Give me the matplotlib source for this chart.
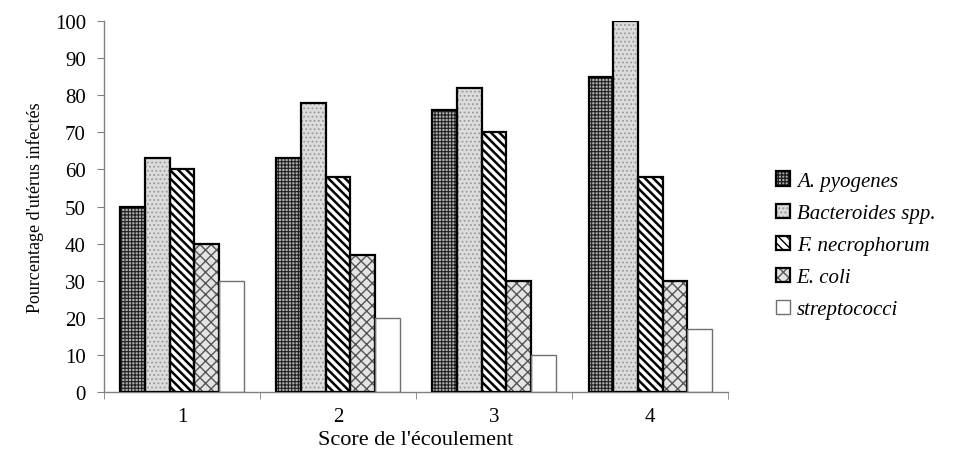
import numpy as np
import matplotlib
matplotlib.use("Agg")
import matplotlib.pyplot as plt
from matplotlib.legend_handler import HandlerTuple

plt.rcParams['font.family'] = ['Liberation Serif', 'DejaVu Serif']

# discharge score categories
scores = ['1', '2', '3', '4']

# % of infected uteri per bacterium
a_pyogenes = [50, 63, 76, 85]
bacteroides = [63, 78, 82, 100]
f_necrophorum = [60, 58, 70, 58]
e_coli = [40, 37, 30, 30]
streptococci = [30, 20, 10, 17]

series = [a_pyogenes, bacteroides, f_necrophorum, e_coli, streptococci]
labels = ['A. pyogenes', 'Bacteroides spp.', 'F. necrophorum', 'E. coli', 'streptococci']

# face, hatch, hatch colour, hatch width, edge colour, edge width
styles = [
    ('#b0b0b0', '+++++', '#202020', 0.8, 'black', 1.6),
    ('#dcdcdc', '....', '#9a9a9a', 0.8, 'black', 1.6),
    ('white', '\\\\\\\\', 'black', 1.8, 'black', 1.6),
    ('#e4e4e4', 'xxx', '#555555', 1.0, 'black', 1.6),
    ('white', '', 'white', 0.5, '#707070', 1.0),
]

fig = plt.figure(figsize=(9.62, 4.52), dpi=100)
ax = fig.add_axes([0.108, 0.1305, 0.649, 0.8205])

x = np.arange(1, len(scores) + 1)
w = 0.158
handles = []
for i, (vals, lab, st) in enumerate(zip(series, labels, styles)):
    face, hatch, hcol, hlw, ecol, elw = st
    pos = x + (i - 2) * w
    with plt.rc_context({'hatch.linewidth': hlw}):
        fill = ax.bar(pos, vals, width=w, color=face, hatch=hatch,
                      edgecolor=hcol, linewidth=0, zorder=2)
        for p in fill:
            if hasattr(p, 'set_hatch_linewidth'):
                p.set_hatch_linewidth(hlw)
    outline = ax.bar(pos, vals, width=w, fill=False, edgecolor=ecol,
                     linewidth=elw, zorder=3)
    handles.append((fill[0], outline[0]))

ax.set_xlim(0.5, 4.5)
ax.set_ylim(0, 100)
ax.set_yticks(np.arange(0, 101, 10))
ax.set_xticks(x)
ax.set_xticklabels(scores)
ax.set_xticks(np.arange(0.5, 4.6, 1), minor=True)
ax.tick_params(axis='x', which='major', length=0, pad=11, labelsize=15)
ax.tick_params(axis='x', which='minor', length=5, color='#808080')
ax.tick_params(axis='y', length=5, color='#808080', labelsize=15, pad=8)

for s in ['top', 'right']:
    ax.spines[s].set_visible(False)
for s in ['left', 'bottom']:
    ax.spines[s].set_color('#808080')
    ax.spines[s].set_linewidth(1.0)

ax.set_ylabel("Pourcentage d'utérus infectés", fontsize=13, labelpad=8)
ax.set_xlabel("Score de l'écoulement", fontsize=16, labelpad=3)

fig.legend(handles, labels, loc='upper left', bbox_to_anchor=(0.787, 0.66),
           frameon=False, prop={'style': 'italic', 'size': 15},
           handler_map={tuple: HandlerTuple(ndivide=1)},
           handlelength=0.7, handleheight=0.7, handletextpad=0.3,
           labelspacing=0.6)

fig.savefig('out.png', dpi=100)
